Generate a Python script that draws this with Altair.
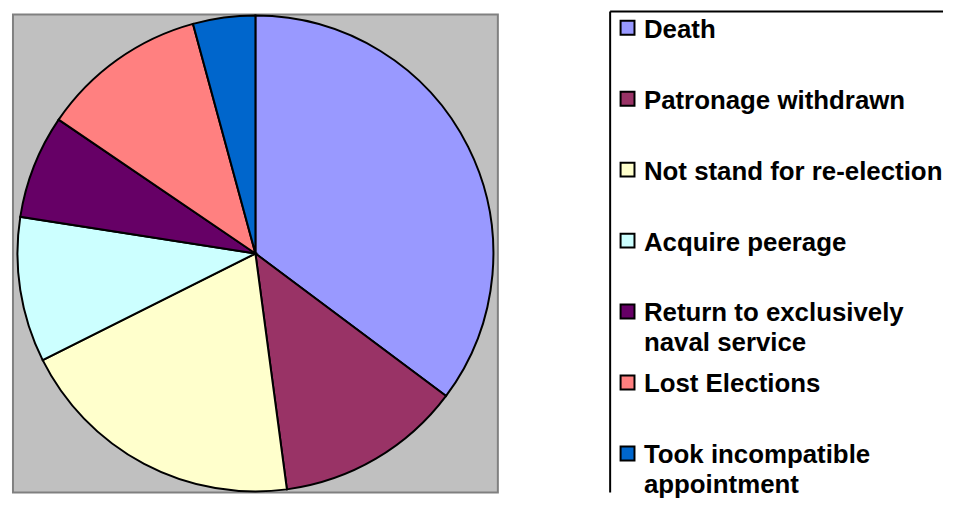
import altair as alt
import pandas as pd

categories = ["Death", "Patronage withdrawn", "Not stand for re-election",
              "Acquire peerage", "Return to exclusively naval service",
              "Lost Elections", "Took incompatible appointment"]
legend_labels = ["Death", "Patronage withdrawn", "Not stand for re-election",
                 "Acquire peerage", "Return to exclusively\nnaval service",
                 "Lost Elections", "Took incompatible\nappointment"]
counts = [25, 9, 14, 7, 5, 8, 3]
colors = ["#9999FF", "#993366", "#FFFFCC", "#CCFFFF", "#660066", "#FF8080", "#0066CC"]

df = pd.DataFrame({"category": categories, "label": legend_labels,
                   "count": counts, "order": list(range(len(categories)))})

color_scale = alt.Scale(domain=categories, range=colors)

PIE_W, PIE_H = 488, 481
LEG_W, LEG_H = 335, 481

pie = alt.Chart(df).mark_arc(outerRadius=239.5, stroke="black", strokeWidth=2).encode(
    theta=alt.Theta("count:Q", stack=True),
    color=alt.Color("category:N", scale=color_scale, legend=None),
    order=alt.Order("order:Q"),
).properties(width=PIE_W, height=PIE_H,
             view=alt.ViewBackground(fill="#C0C0C0", stroke="#808080", strokeWidth=2))

leg_base = alt.Chart(df).encode(
    y=alt.Y("category:N", sort=categories,
            scale=alt.Scale(domain=categories, type="point", padding=0.3683, align=0.253),
            axis=None)
)
squares = leg_base.mark_square(size=196, stroke="black", strokeWidth=2, opacity=1).encode(
    x=alt.value(17.5),
    color=alt.Color("category:N", scale=color_scale, legend=None),
)
texts = leg_base.mark_text(align="left", baseline="top", dy=-11, font="Liberation Sans",
                           fontWeight="bold", fontSize=26, lineBreak="\n", lineHeight=30,
                           color="black").encode(
    x=alt.value(34),
    text="label:N",
)
frame_df = pd.DataFrame({"k": [0]})
top_line = alt.Chart(frame_df).mark_rule(color="black", strokeWidth=2).encode(
    x=alt.value(0), x2=alt.value(LEG_W), y=alt.value(-3)
)
left_line = alt.Chart(frame_df).mark_rule(color="black", strokeWidth=2).encode(
    x=alt.value(0), y=alt.value(-3), y2=alt.value(LEG_H)
)
legend = alt.layer(top_line, left_line, squares, texts).properties(
    width=LEG_W, height=LEG_H,
    view=alt.ViewBackground(stroke="transparent")
)

chart = alt.hconcat(pie, legend, spacing=110).properties(
    padding={"left": 4, "top": 0, "right": 0, "bottom": 0},
    background="white",
)

chart.save("out.html", embed_options={"renderer": "svg", "actions": False})
